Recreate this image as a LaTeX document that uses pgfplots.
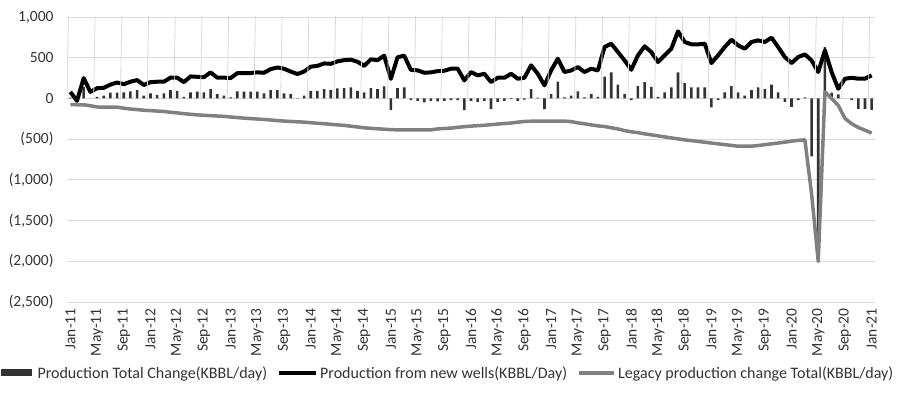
\documentclass[border=0pt]{standalone}
\usepackage{pgfplots}
\pgfplotsset{compat=1.18}
\usepackage{pgfplotstable}
\usepackage{fontspec}
\setmainfont{Carlito}
\definecolor{barc}{HTML}{333333}
\definecolor{legc}{HTML}{808080}
\definecolor{gridc}{HTML}{D9D9D9}
\definecolor{txtc}{HTML}{333333}

\pgfplotstableread{
i bar new leg
0 10 80 -75
1 -40 -30 -78
2 143 250 -78
3 0 80 -90
4 20 125 -105
5 33 130 -107
6 70 170 -107
7 70 195 -107
8 74 175 -120
9 86 205 -130
10 103 225 -137
11 33 165 -145
12 61 200 -150
13 45 205 -155
14 61 205 -160
15 103 255 -170
16 94 255 -178
17 20 200 -187
18 74 270 -195
19 82 265 -202
20 74 260 -207
21 115 320 -212
22 53 255 -216
23 33 255 -220
24 12 250 -228
25 86 310 -235
26 82 312 -242
27 82 312 -248
28 82 320 -253
29 61 315 -258
30 103 360 -265
31 103 380 -272
32 61 365 -278
33 53 330 -283
34 5 300 -287
35 33 330 -291
36 94 390 -298
37 94 400 -305
38 115 430 -311
39 103 425 -318
40 123 455 -325
41 127 470 -331
42 135 476 -341
43 94 450 -351
44 74 400 -361
45 127 480 -367
46 115 470 -373
47 148 525 -378
48 -144 240 -383
49 127 505 -386
50 135 525 -386
51 -20 350 -386
52 -29 345 -386
53 -49 315 -386
54 -29 320 -386
55 -37 335 -375
56 -29 340 -368
57 -20 365 -365
58 -20 365 -355
59 -143 221 -347
60 -29 324 -340
61 -41 283 -335
62 -29 303 -330
63 -131 201 -322
64 -41 254 -315
65 -29 254 -308
66 -10 303 -302
67 -29 242 -292
68 -16 254 -283
69 115 406 -280
70 10 303 -279
71 -131 160 -279
72 53 344 -279
73 205 488 -279
74 12 324 -279
75 33 344 -285
76 86 385 -300
77 12 324 -312
78 53 365 -325
79 20 344 -337
80 267 631 -345
81 320 672 -360
82 168 570 -375
83 53 467 -395
84 -20 352 -410
85 152 529 -420
86 201 640 -435
87 143 570 -447
88 20 447 -460
89 74 529 -472
90 135 611 -485
91 320 824 -497
92 189 693 -509
93 135 664 -518
94 135 664 -528
95 135 672 -538
96 -111 434 -548
97 -20 529 -558
98 74 631 -567
99 152 721 -577
100 74 652 -587
101 33 611 -587
102 103 693 -587
103 135 713 -578
104 115 693 -568
105 168 746 -558
106 74 631 -548
107 -41 508 -537
108 -103 434 -525
109 -20 508 -515
110 12 541 -509
111 -713 467 -1170
112 -1800 324 -2000
113 630 590 80
114 70 324 0
115 50 119 -86
116 0 242 -246
117 -20 254 -310
118 -127 242 -357
119 -127 242 -390
120 -140 283 -426
}\data

\begin{document}
\begin{tikzpicture}[x=1pt,y=1pt]
\useasboundingbox (-67,-93) rectangle (833,302);
\begin{axis}[
  at={(0,0)}, anchor=south west,
  scale only axis, width=808pt, height=285pt,
  xmin=-0.5, xmax=120.5, ymin=-2500, ymax=1000,
  axis line style={draw=none},
  major tick length=0pt,
  ytick={-2500,-2000,...,1000},
  yticklabels={{(2,500)},{(2,000)},{(1,500)},{(1,000)},{(500)},0,500,{1,000}},
  ymajorgrids, grid style={gridc, line width=0.8pt},
  xtick={0,4,...,120},
  xticklabels={Jan-11,May-11,Sep-11,Jan-12,May-12,Sep-12,Jan-13,May-13,Sep-13,Jan-14,May-14,Sep-14,Jan-15,May-15,Sep-15,Jan-16,May-16,Sep-16,Jan-17,May-17,Sep-17,Jan-18,May-18,Sep-18,Jan-19,May-19,Sep-19,Jan-20,May-20,Sep-20,Jan-21},
  xticklabel style={rotate=90, anchor=east, font=\fontsize{15.5}{16}\selectfont, text=txtc},
  yticklabel style={font=\fontsize{15.5}{16}\selectfont, text=txtc},
  yticklabel shift=10pt,
  xticklabel shift=3pt,
  /pgf/number format/assume math mode=true,
  legend columns=3,
  legend cell align=left,
  legend style={at={(0.4715,-0.249)}, anchor=center, draw=none, fill=none,
    font=\fontsize{16}{18}\selectfont, text=txtc,
    /tikz/every even column/.append style={column sep=8pt}},
]
\addplot[ybar, bar width=2.6pt, fill=barc, draw=none,
  legend image code/.code={\fill[barc] (0pt,-3.5pt) rectangle (31pt,3.5pt); \path (35pt,0pt);}]
  table[x=i,y=bar]{\data};
\addlegendentry{Production Total Change(KBBL/day)}
\addplot[black, line width=4pt, line join=round, mark=none,
  legend image code/.code={\draw[black,line width=4pt] (0pt,0pt) -- (37pt,0pt);}]
  table[x=i,y=new]{\data};
\addlegendentry{Production from new wells(KBBL/Day)}
\addplot[legc, line width=3.5pt, line join=round, mark=none,
  legend image code/.code={\draw[legc,line width=4pt] (0pt,0pt) -- (35pt,0pt);}]
  table[x=i,y=leg]{\data};
\addlegendentry{Legacy production change Total(KBBL/day)}
\pgfplotsinvokeforeach{0,...,30}{
  \draw[gridc, line width=0.8pt] (axis cs:{4*#1-0.5},0) -- ++(0,-4pt);
}
\end{axis}
\end{tikzpicture}
\end{document}
